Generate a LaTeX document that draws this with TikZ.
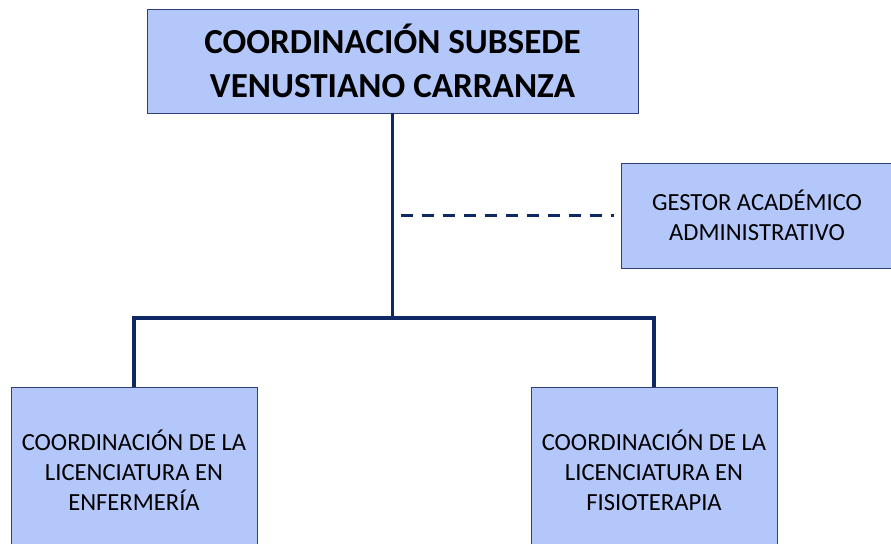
\documentclass[tikz,border=0pt]{standalone}
\usepackage{fontspec}
\setmainfont{Carlito}
\definecolor{boxfill}{RGB}{180,199,251}
\definecolor{boxline}{RGB}{45,62,120}
\definecolor{linknavy}{RGB}{14,40,100}
\usetikzlibrary{positioning}

\begin{document}
\begin{tikzpicture}[x=0.03cm,y=-0.03cm,
    unitbox/.style={draw=boxline,fill=boxfill,line width=0.6pt,
        inner sep=0pt,align=center},
    headtext/.style={font=\fontsize{30}{37}\selectfont\bfseries},
    unittext/.style={font=\fontsize{21}{25.5}\selectfont},
    link/.style={draw=linknavy,line width=2.6pt},
    staff/.style={link,line width=2.8pt,dash pattern=on 0.36cm off 0.27cm}]
  \useasboundingbox (0,0) rectangle (891,544);

  %% Head office
  \node[unitbox,headtext,minimum width=491*0.03cm,minimum height=104*0.03cm]
        (head) at (392.5,61) {COORDINACIÓN SUBSEDE\\VENUSTIANO CARRANZA};
  %% Staff position
  \node[unitbox,unittext,minimum width=272*0.03cm,minimum height=105*0.03cm]
        (gestor) at (757,215.5) {GESTOR ACADÉMICO\\ADMINISTRATIVO};
  %% Degree coordinations
  \node[unitbox,unittext,minimum width=246*0.03cm,minimum height=166*0.03cm]
        (enf) at (134,470) {COORDINACIÓN DE LA\\LICENCIATURA EN\\ENFERMERÍA};
  \node[unitbox,unittext,minimum width=246*0.03cm,minimum height=166*0.03cm]
        (fis) at (654,470) {COORDINACIÓN DE LA\\LICENCIATURA EN\\FISIOTERAPIA};

  %% Links
  \coordinate (split) at (head.south |- 0,318);
  \coordinate (staffpt) at (head.south |- gestor.west);
  \draw[link] (head.south) -- (split);
  \draw[link] (enf.north) -- (enf.north |- split) -- (fis.north |- split) -- (fis.north);
  \draw[staff,shorten <=8*0.03cm,shorten >=7*0.03cm] (staffpt) -- (gestor.west);
\end{tikzpicture}
\end{document}
